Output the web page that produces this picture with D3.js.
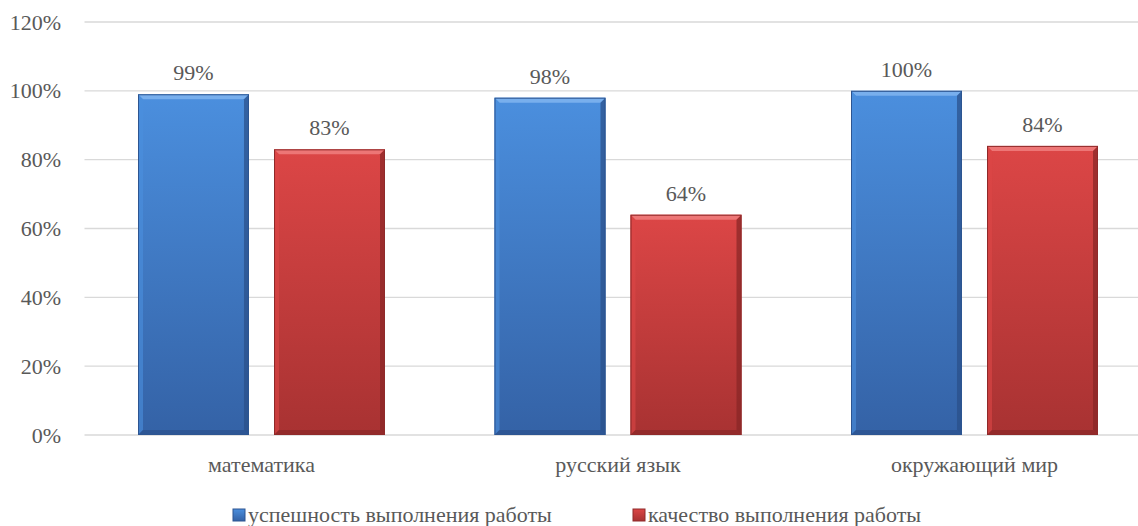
<!DOCTYPE html>
<html lang="ru">
<head>
<meta charset="UTF-8" />
<title>d3</title>
<script src="https://d3js.org/d3.v7.min.js"></script>
<style>
  body { margin: 0; background: #fff; }
  svg text { font-family: 'Liberation Serif', 'Tinos', 'Times New Roman', serif !important; }
</style>
</head>
<body>
<script>
var width = 1138, height = 526;
var plot = { left: 83.5, right: 1153, top: 22, bottom: 435 };
var textColor = '#595959';

// данные
var categories = ['математика', 'русский язык', 'окружающий мир'];
var series = ['успешность выполнения работы', 'качество выполнения работы'];
var success = [0.99, 0.98, 1.00];
var quality = [0.83, 0.64, 0.84];
var ticks = [0, 0.2, 0.4, 0.6, 0.8, 1.0, 1.2];

var colors = [
  { top: '#4b8fde', bottom: '#3462a6', light: '#7db2ee', dark: '#2a4f88', edge: '#2d5591' },
  { top: '#dc4646', bottom: '#a83232', light: '#ee7b7b', dark: '#862525', edge: '#8f2a2a' }
];

var svg = d3.select('body').append('svg').attr('width', width).attr('height', height)
  .attr('font-family', 'Liberation Serif');

var x0 = d3.scaleBand().domain(categories).range([plot.left, plot.right]);
var x1 = d3.scaleBand().domain([0, 1]).range([54.5, 301.5]).paddingInner(0.184);
var y = d3.scaleLinear().domain([0, 1.2]).range([plot.bottom, plot.top]);

function label(sel) {
  sel.style('font-family', "'Liberation Serif'")
    .style('font-size', '22px')
    .attr('fill', textColor);
}

// градиенты
var defs = svg.append('defs');
colors.forEach(function (c, i) {
  var g = defs.append('linearGradient').attr('id', 'g' + i).attr('x1', 0).attr('y1', 0).attr('x2', 0).attr('y2', 1);
  g.append('stop').attr('offset', '0%').attr('stop-color', c.top);
  g.append('stop').attr('offset', '100%').attr('stop-color', c.bottom);
});

// сетка
svg.append('g').selectAll('line').data(ticks).join('line')
  .attr('x1', plot.left + 1).attr('x2', width)
  .attr('y1', d => y(d)).attr('y2', d => y(d))
  .attr('stroke', '#d9d9d9').attr('stroke-width', 1.3);

// подписи оси Y
var fmt = d3.format('.0%');
svg.append('g').selectAll('text').data(ticks).join('text')
  .attr('x', 61).attr('y', d => y(d) + 7.5)
  .attr('text-anchor', 'end')
  .call(label)
  .text(d => fmt(d));

// столбцы
var data = [];
categories.forEach(function (c, ci) {
  data.push({ cat: c, s: 0, v: success[ci] });
  data.push({ cat: c, s: 1, v: quality[ci] });
});

var b = 5;
var bars = svg.append('g').selectAll('g').data(data).join('g')
  .attr('transform', d => 'translate(' + (x0(d.cat) + x1(d.s)) + ',0)');

bars.each(function (d) {
  var g = d3.select(this);
  var w = x1.bandwidth(), t = y(d.v), bt = y(0), c = colors[d.s];
  g.append('rect').attr('x', 0).attr('y', t).attr('width', w).attr('height', bt - t).attr('fill', 'url(#g' + d.s + ')');
  g.append('polygon').attr('points', [[0, t], [w, t], [w - b, t + b], [b, t + b]].join(' ')).attr('fill', c.light).attr('opacity', 0.9);
  g.append('polygon').attr('points', [[0, t], [b, t + b], [b, bt - b], [0, bt]].join(' ')).attr('fill', c.top).attr('opacity', 0.6);
  g.append('polygon').attr('points', [[w, t], [w, bt], [w - b, bt - b], [w - b, t + b]].join(' ')).attr('fill', c.dark).attr('opacity', 0.7);
  g.append('polygon').attr('points', [[0, bt], [w, bt], [w - b, bt - b], [b, bt - b]].join(' ')).attr('fill', c.dark).attr('opacity', 0.6);
  g.append('rect').attr('x', 0.5).attr('y', t + 0.5).attr('width', w - 1).attr('height', bt - t - 1)
    .attr('fill', 'none').attr('stroke', c.edge).attr('stroke-width', 1);
  g.append('text').attr('x', w / 2).attr('y', t - 14).attr('text-anchor', 'middle')
    .call(label).text(fmt(d.v));
});

// подписи категорий
svg.append('g').selectAll('text').data(categories).join('text')
  .attr('x', d => x0(d) + (x1.range()[0] + x1.range()[1]) / 2).attr('y', 472)
  .attr('text-anchor', 'middle').call(label).text(d => d);

// легенда
var legendX = [233, 633];
var leg = svg.append('g').selectAll('g').data(series).join('g')
  .attr('transform', (d, i) => 'translate(' + legendX[i] + ',509)');
leg.append('rect').attr('width', 12).attr('height', 12).attr('fill', (d, i) => 'url(#g' + i + ')')
  .attr('stroke', (d, i) => colors[i].edge).attr('stroke-width', 1);
leg.append('text').attr('x', 15).attr('y', 13).call(label).text(d => d);
</script>
</body>
</html>
